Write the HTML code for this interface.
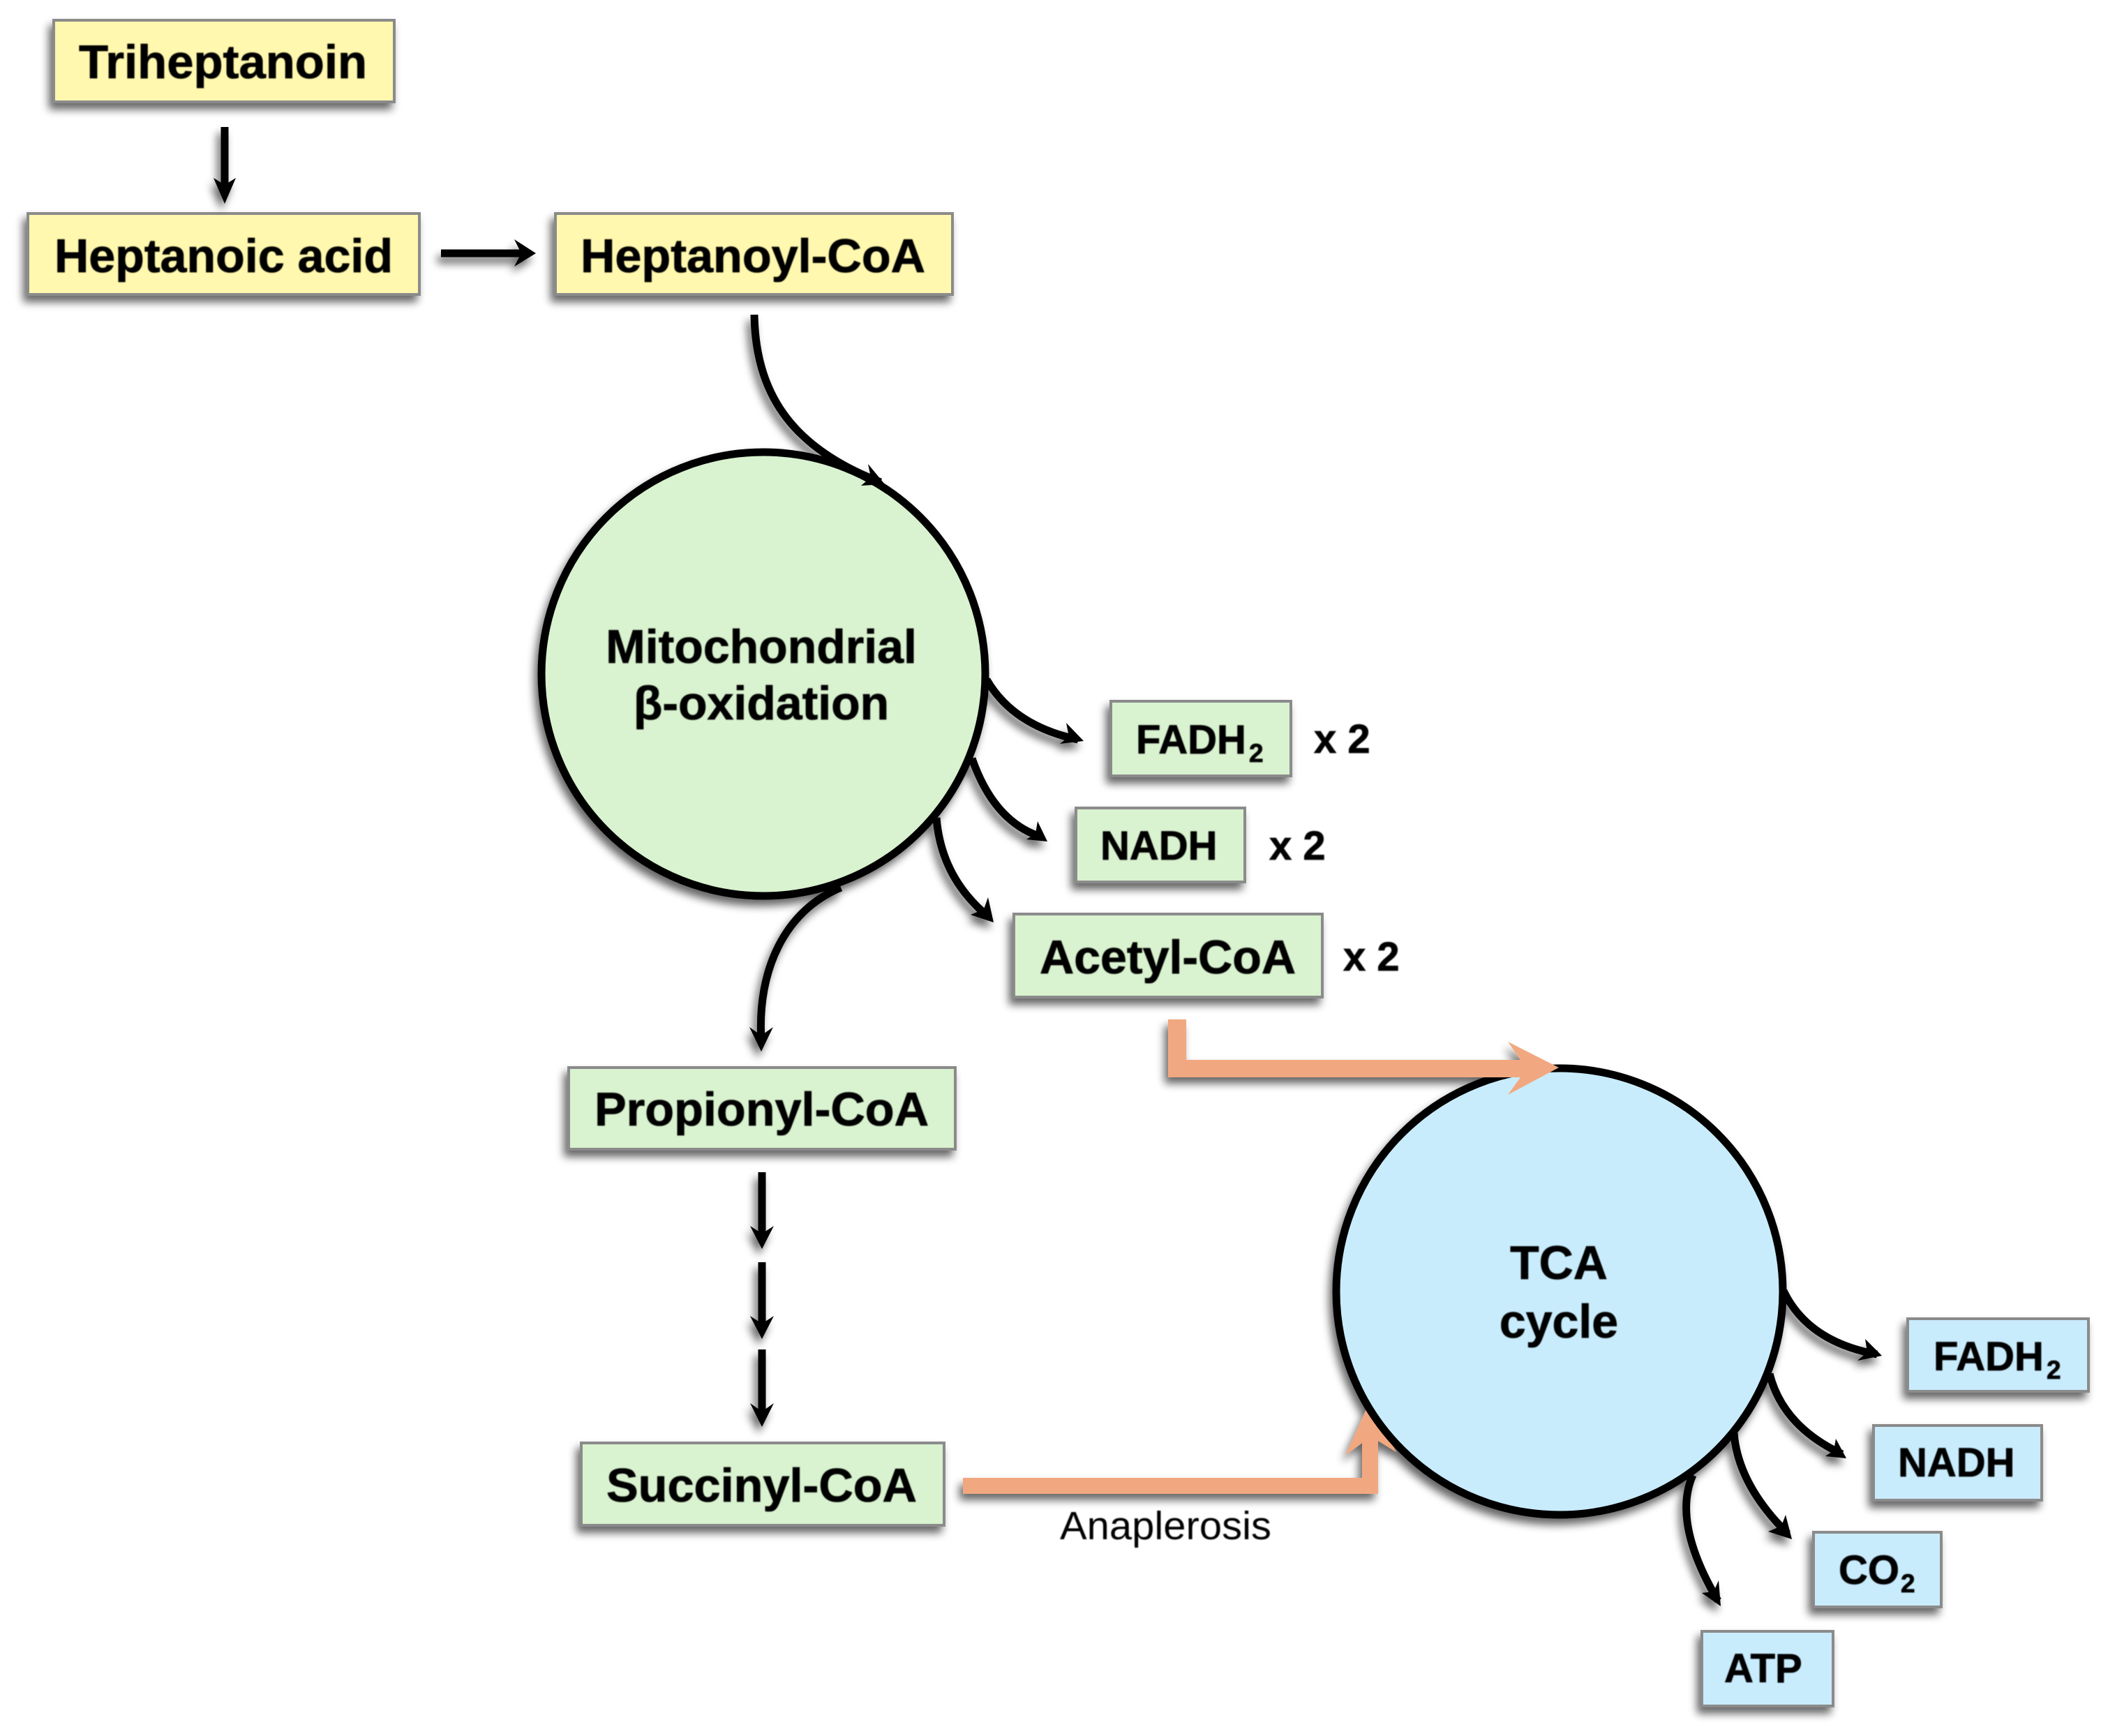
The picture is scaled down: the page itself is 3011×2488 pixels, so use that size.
<!DOCTYPE html>
<html><head><meta charset="utf-8"><style>
html,body{margin:0;padding:0;background:#fff;width:3011px;height:2488px;overflow:hidden}
svg{display:block}
text{font-family:"Liberation Sans",Arial,sans-serif;font-weight:bold;fill:#000;stroke:#000;stroke-width:.8px;font-size:68px}
.s{font-size:58px}.r{font-weight:normal;font-size:57px;stroke-width:0}.u{font-size:37px}
.bx{stroke:#8b8b8b;stroke-width:4}
.y{fill:#FFF8AE}.g{fill:#D9F2CF}.b{fill:#C9ECFC}
.l{fill:none;stroke:#000;stroke-width:11}
</style></head><body>
<svg width="3011" height="2488" viewBox="0 0 3011 2488" xmlns="http://www.w3.org/2000/svg">
<defs>
<filter id="sh2" x="-10%" y="-10%" width="120%" height="120%"><feGaussianBlur in="SourceAlpha" stdDeviation="6"/><feOffset dx="-5" dy="9"/><feComponentTransfer><feFuncA type="linear" slope="0.6"/></feComponentTransfer><feMerge><feMergeNode/><feMergeNode in="SourceGraphic"/></feMerge></filter>
<filter id="bl" x="-5%" y="-20%" width="110%" height="140%"><feGaussianBlur stdDeviation="0.8"/></filter>
</defs>

<g filter="url(#sh2)">
<rect class="bx y" x="77" y="29" width="488" height="117"/>
<rect class="bx y" x="40" y="306" width="561" height="116"/>
<rect class="bx y" x="796" y="306" width="569" height="116"/>
<rect class="bx g" x="1592" y="1005" width="258" height="107"/>
<rect class="bx g" x="1542" y="1158" width="242" height="106"/>
<rect class="bx g" x="1453" y="1310" width="442" height="119"/>
<rect class="bx g" x="815" y="1530" width="554" height="117"/>
<rect class="bx g" x="833" y="2068" width="520" height="118"/>
<rect class="bx b" x="2734" y="1890" width="259" height="104"/>
<rect class="bx b" x="2685" y="2043" width="241" height="107"/>
<rect class="bx b" x="2599" y="2196" width="183" height="107"/>
<rect class="bx b" x="2439" y="2338" width="188" height="107"/>
</g>

<g filter="url(#sh2)">
<!-- straight arrows -->
<path class="l" d="M322 182V270"/><polygon points="322,292 306,255 322,265 338,255"/>
<path class="l" style="stroke-width:11" d="M632 363H750"/><polygon points="768,363 737,343 747,363 737,382"/>
<path class="l" d="M1092 1680V1770"/><polygon points="1092,1790 1075,1757 1092,1768 1109,1757"/>
<path class="l" d="M1092 1809V1899"/><polygon points="1092,1919 1075,1886 1092,1897 1109,1886"/>
<path class="l" d="M1092 1934V2025"/><polygon points="1092,2045 1075,2011 1092,2023 1109,2011"/>
<!-- bottom orange -->
<polygon fill="#F1A880" points="1380,2118 1952,2118 1952,2068 1928,2086 1962,2011 2001,2081 1975,2065 1975,2141 1380,2141"/>
<!-- curved -->
<path class="l" d="M1205 1272C1125 1305 1085 1390 1091 1490"/><polygon points="1091,1507 1074,1472 1091,1484 1108,1472"/>
<path class="l" d="M1414 974Q1452 1040 1545 1060"/><polygon points="1553,1062 1528,1036 1532,1056 1519,1066"/>
<path class="l" d="M1393 1087Q1425 1179 1494 1200"/><polygon points="1501,1206 1487,1177 1484,1195 1471,1203"/>
<path class="l" d="M1342 1172Q1349 1259 1418 1315"/><polygon points="1424,1322 1416,1286 1410,1303 1391,1311"/>
<path class="l" d="M2556 1850Q2591 1923 2690 1941"/><polygon points="2697,1943 2673,1919 2676,1938 2662,1950"/>
<path class="l" d="M2536 1969Q2555 2044 2640 2084"/><polygon points="2646,2090 2631,2062 2628,2079 2616,2087"/>
<path class="l" d="M2485 2054Q2491 2128 2562 2198"/><polygon points="2568,2206 2559,2171 2553,2187 2534,2195"/>
<path class="l" d="M2426 2114Q2396 2182 2462 2294"/><polygon points="2466,2302 2463,2265 2456,2281 2439,2283"/>
<!-- circles -->
<circle cx="1094" cy="966" r="318" fill="#D9F2CF" stroke="#000" stroke-width="11"/>
<circle cx="2235" cy="1851" r="320" fill="#C9ECFC" stroke="#000" stroke-width="11"/>
<!-- top curve -->
<path class="l" d="M1081 451C1083 560 1130 640 1262 691"/><polygon points="1268,694 1244,665 1248,684 1234,696"/>
<!-- top orange -->
<polygon fill="#F1A880" points="1674,1461 1700,1461 1700,1519 2179,1519 2161,1493 2234,1530 2161,1569 2179,1544 1674,1544"/>
</g>

<g filter="url(#bl)">
<text x="113" y="112" textLength="413" lengthAdjust="spacingAndGlyphs">Triheptanoin</text>
<text x="78" y="390" textLength="485" lengthAdjust="spacingAndGlyphs">Heptanoic acid</text>
<text x="832" y="390" textLength="494" lengthAdjust="spacingAndGlyphs">Heptanoyl-CoA</text>
<text x="1091" y="950" text-anchor="middle">Mitochondrial</text>
<text x="1091" y="1031" text-anchor="middle">β-oxidation</text>
<text class="s" x="1628" y="1080">FADH</text><text class="u" x="1790" y="1092">2</text>
<text class="s" x="1883" y="1079">x 2</text>
<text class="s" x="1577" y="1232">NADH</text>
<text class="s" x="1819" y="1232">x 2</text>
<text x="1490" y="1395" textLength="367" lengthAdjust="spacingAndGlyphs">Acetyl-CoA</text>
<text class="s" x="1925" y="1391">x 2</text>
<text x="852" y="1613" textLength="479" lengthAdjust="spacingAndGlyphs">Propionyl-CoA</text>
<text x="869" y="2152" textLength="445" lengthAdjust="spacingAndGlyphs">Succinyl-CoA</text>
<text class="r" x="1519" y="2206" textLength="303" lengthAdjust="spacingAndGlyphs">Anaplerosis</text>
<text x="2234" y="1833" text-anchor="middle">TCA</text>
<text x="2234" y="1917" text-anchor="middle">cycle</text>
<text class="s" x="2771" y="1964">FADH</text><text class="u" x="2933" y="1976">2</text>
<text class="s" x="2720" y="2116">NADH</text>
<text class="s" x="2635" y="2270">CO</text><text class="u" x="2724" y="2282">2</text>
<text class="s" x="2471" y="2411">ATP</text>
</g>
</svg>
</body></html>
